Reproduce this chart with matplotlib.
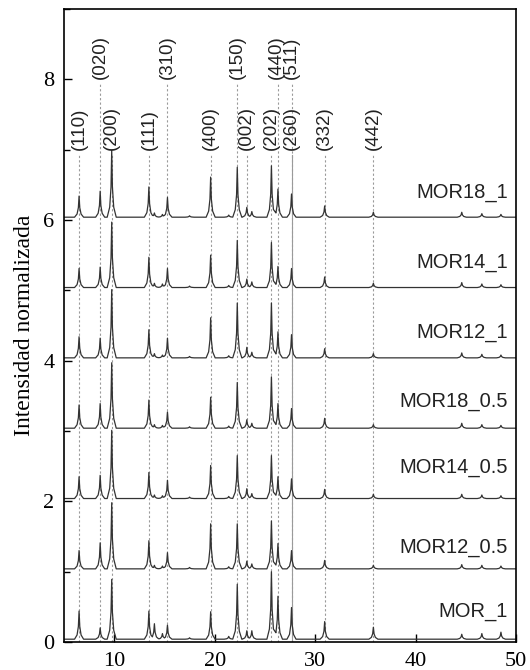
import matplotlib
matplotlib.use('Agg')
import matplotlib.pyplot as plt
import numpy as np
from matplotlib.ticker import MultipleLocator

# 2-theta positions of the peaks
peak_pos = [6.5, 8.6, 9.75, 13.45, 14.0, 14.8, 15.3, 17.5, 19.6, 21.4, 22.25,
            23.2, 23.7, 25.65, 26.3, 27.65, 30.95, 35.8, 44.6, 46.6, 48.5]

# peak heights above the baseline, one list per sample
mor_1 = [0.40, 0.16, 0.85, 0.40, 0.22, 0.08, 0.20, 0.02, 0.39, 0.04, 0.78,
         0.12, 0.12, 0.96, 0.61, 0.45, 0.25, 0.17, 0.07, 0.08, 0.10]
mor12_05 = [0.26, 0.37, 0.94, 0.40, 0.05, 0.04, 0.23, 0.02, 0.64, 0.03, 0.64,
            0.11, 0.07, 0.68, 0.36, 0.26, 0.12, 0.05, 0.06, 0.05, 0.04]
mor14_05 = [0.31, 0.33, 0.97, 0.37, 0.05, 0.04, 0.26, 0.02, 0.47, 0.03, 0.61,
            0.14, 0.07, 0.61, 0.31, 0.28, 0.13, 0.06, 0.06, 0.05, 0.04]
mor18_05 = [0.33, 0.35, 0.93, 0.40, 0.05, 0.04, 0.23, 0.02, 0.44, 0.03, 0.65,
            0.12, 0.07, 0.73, 0.35, 0.28, 0.14, 0.05, 0.07, 0.05, 0.04]
mor12_1 = [0.30, 0.28, 0.97, 0.40, 0.06, 0.04, 0.28, 0.02, 0.57, 0.03, 0.78,
           0.15, 0.08, 0.78, 0.37, 0.33, 0.13, 0.06, 0.07, 0.05, 0.04]
mor14_1 = [0.27, 0.29, 0.93, 0.43, 0.06, 0.05, 0.27, 0.02, 0.46, 0.03, 0.67,
           0.12, 0.08, 0.64, 0.30, 0.27, 0.15, 0.06, 0.07, 0.05, 0.04]
mor18_1 = [0.30, 0.37, 0.95, 0.43, 0.06, 0.04, 0.28, 0.02, 0.57, 0.03, 0.71,
           0.14, 0.08, 0.73, 0.40, 0.33, 0.16, 0.07, 0.07, 0.05, 0.04]

samples = ['MOR_1', 'MOR12_0.5', 'MOR14_0.5', 'MOR18_0.5', 'MOR12_1', 'MOR14_1', 'MOR18_1']
patterns = [mor_1, mor12_05, mor14_05, mor18_05, mor12_1, mor14_1, mor18_1]
baseline = 0.04

# reflections: label, 2-theta, row (0 = lower, 1 = upper)
hkl = ['(110)', '(020)', '(200)', '(111)', '(310)', '(400)', '(150)', '(002)',
       '(202)', '(440)', '(511)', '(260)', '(332)', '(442)']
hkl_pos = [6.5, 8.6, 9.75, 13.45, 15.3, 19.6, 22.25, 23.2,
           25.65, 26.3, 27.65, 27.65, 30.95, 35.8]
hkl_row = [0, 1, 0, 0, 1, 0, 1, 0, 0, 1, 1, 0, 0, 0]

X_MIN, X_MAX = 5, 50
# drawn peak outline: offsets from the peak centre and fraction of its height
SHAPE_DX = [-0.45, -0.2, -0.07, 0.0, 0.07, 0.2, 0.45]
SHAPE_FR = [0.0, 0.15, 0.45, 1.0, 0.45, 0.15, 0.0]
label_y = [0.43, 0.34, 0.48, 0.42, 0.40, 0.39, 0.39]


def trace(heights, offset):
    xs = [X_MIN, X_MAX]
    for p in peak_pos:
        xs += [p + d for d in SHAPE_DX]
    xs = np.unique(xs)
    ys = np.zeros_like(xs)
    for p, h in zip(peak_pos, heights):
        shape = np.interp(xs, [p + d for d in SHAPE_DX], [h * f for f in SHAPE_FR],
                          left=0, right=0)
        ys = np.maximum(ys, shape)
    return xs, ys + offset + baseline


fig = plt.figure(figsize=(5.3, 6.7), dpi=100)
ax = fig.add_axes([64 / 530, 28 / 670, 452 / 530, 633 / 670])

for lab, x, row in zip(hkl, hkl_pos, hkl_row):
    top = 8.0 if row else 7.0
    ls = '-' if lab == '(260)' else (0, (2, 2))
    ax.plot([x, x], [0, top - 0.07], color='#9a9a9a', lw=0.8, ls=ls, zorder=1)
    # the two upper labels at 26.3 and 27.65 sit almost on top of each other
    tx = x - 0.15 if lab == '(440)' else x
    ax.text(tx, top, lab, rotation=90, ha='center', va='bottom',
            family='Liberation Sans', fontsize=13.5, color='#222222')

for i, (name, h) in enumerate(zip(samples, patterns)):
    xs, ys = trace(h, i)
    ax.plot(xs, ys, color='#333333', lw=0.9, zorder=2)
    ax.text(49.2, i + label_y[i], name, ha='right', va='center',
            family='Liberation Sans', fontsize=14.5, color='#222222')

ax.set_xlim(X_MIN, X_MAX)
ax.set_ylim(0, 9)
ax.xaxis.set_major_locator(MultipleLocator(10))
ax.yaxis.set_major_locator(MultipleLocator(2))
ax.yaxis.set_minor_locator(MultipleLocator(1))
ax.tick_params(direction='in', length=5.5, width=1, pad=7, labelsize=16)
ax.tick_params(which='minor', direction='in', length=4, width=1)
for lbl in ax.get_xticklabels() + ax.get_yticklabels():
    lbl.set_family('Liberation Serif')
for s in ax.spines.values():
    s.set_linewidth(1.2)
ax.set_ylabel('Intensidad normalizada', family='Liberation Serif', fontsize=17, labelpad=6)

plt.savefig('out.png', dpi=100)
